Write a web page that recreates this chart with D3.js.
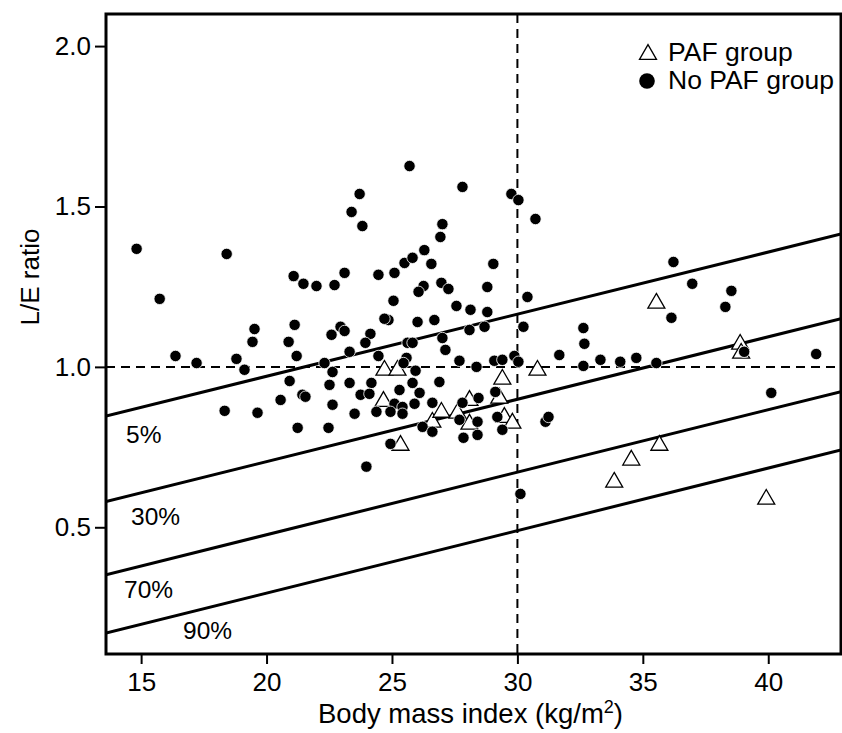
<!DOCTYPE html>
<html>
<head>
<meta charset="utf-8">
<script src="https://cdn.jsdelivr.net/npm/d3@7"></script>
<style>
  html, body { margin: 0; padding: 0; background: #fff; }
  svg { display: block; font-family: "Liberation Sans", Arial, sans-serif; }
</style>
</head>
<body>
<div id="chart"></div>
<script>
// ---------- DATA ----------
const xTicks = [15, 20, 25, 30, 35, 40];
const yTicks = [0.5, 1.0, 1.5, 2.0];
const xDomain = [13.6, 42.9];
const yDomain = [0.105, 2.1];

const bmiCutoff = 30;
const ratioCutoff = 1.0;

// percentile lines: L/E ratio at the left (BMI 13.6) and right (BMI 42.9) ends
const bandLabels = ["5%", "30%", "70%", "90%"];
const bandStart = [0.847, 0.580, 0.352, 0.170];
const bandEnd   = [1.414, 1.150, 0.923, 0.741];

// PAF group (open triangles)
const pafBMI   = [24.70, 25.22, 24.66, 25.34, 26.61, 26.97, 27.61, 28.09, 28.09, 29.28, 29.40,
                  29.48, 29.80, 30.80, 35.54, 38.88, 38.92, 33.86, 34.54, 35.66, 39.92];
const pafRatio = [0.997, 0.997, 0.900, 0.763, 0.835, 0.866, 0.863, 0.903, 0.829, 0.910, 0.969,
                  0.850, 0.832, 0.997, 1.206, 1.078, 1.050, 0.648, 0.717, 0.763, 0.595];

// No PAF group (filled circles)
const noPafBMI = [14.82, 15.74, 18.41, 16.37, 17.21, 18.80, 19.12, 18.33, 19.64, 19.52, 19.44,
  21.08, 21.12, 20.88, 21.20, 20.92, 20.56, 21.24, 21.43, 21.55, 21.47, 21.99, 22.71, 23.11,
  24.46, 25.10, 25.50, 25.82, 26.29, 26.57, 26.93, 27.01, 25.70, 27.81, 29.76, 30.04, 30.72,
  23.71, 23.39, 23.82, 29.04, 26.26, 26.06, 26.97, 27.25, 28.80, 30.40, 25.06, 27.57, 28.13,
  28.80, 24.86, 26.02, 26.69, 28.09, 28.69, 30.24, 27.01, 27.13, 25.62, 25.82, 24.70, 22.95,
  23.11, 22.59, 24.14, 23.94, 23.31, 24.46, 25.58, 25.46, 27.69, 28.37, 29.08, 29.40, 29.88,
  30.04, 31.67, 32.63, 32.67, 32.63, 33.31, 34.10, 34.74, 35.54, 36.22, 36.14, 36.97, 38.53,
  38.29, 39.04, 41.91, 40.12, 22.31, 22.63, 25.94, 25.82, 26.89, 22.51, 23.31, 24.18, 22.63,
  23.75, 24.10, 25.30, 26.10, 25.90, 25.10, 25.42, 25.42, 24.94, 24.38, 23.51, 26.61, 27.81,
  28.45, 29.12, 22.47, 24.94, 26.22, 26.61, 27.69, 28.41, 29.20, 29.40, 27.85, 28.41, 31.12,
  31.24, 23.98, 30.12];
const noPafRatio = [1.368, 1.212, 1.352, 1.034, 1.012, 1.025, 0.991, 0.863, 0.857, 1.118, 1.078,
  1.283, 1.131, 1.078, 1.034, 0.956, 0.897, 0.810, 0.913, 0.907, 1.259, 1.252, 1.255, 1.293,
  1.287, 1.293, 1.324, 1.340, 1.364, 1.321, 1.405, 1.445, 1.626, 1.561, 1.539, 1.520, 1.461,
  1.539, 1.483, 1.439, 1.321, 1.252, 1.234, 1.262, 1.243, 1.249, 1.218, 1.206, 1.190, 1.178,
  1.171, 1.146, 1.140, 1.146, 1.115, 1.125, 1.125, 1.090, 1.053, 1.075, 1.075, 1.150, 1.125,
  1.112, 1.100, 1.103, 1.075, 1.047, 1.034, 1.028, 1.012, 1.019, 1.000, 1.019, 1.022, 1.034,
  1.016, 1.037, 1.121, 1.072, 1.003, 1.022, 1.016, 1.028, 1.012, 1.327, 1.153, 1.259, 1.237,
  1.187, 1.047, 1.040, 0.919, 1.012, 0.984, 0.988, 0.950, 0.953, 0.944, 0.950, 0.950, 0.882,
  0.913, 0.916, 0.928, 0.919, 0.885, 0.885, 0.875, 0.854, 0.860, 0.860, 0.854, 0.888, 0.888,
  0.903, 0.922, 0.810, 0.760, 0.813, 0.798, 0.835, 0.829, 0.844, 0.804, 0.779, 0.788, 0.829,
  0.844, 0.689, 0.604];

const legendLabels = ["PAF group", "No PAF group"];
const xTitle = "Body mass index (kg/m";
const yTitle = "L/E ratio";

// ---------- LAYOUT ----------
const W = 842, H = 733;
const M = { left: 106, top: 14, right: 1, bottom: 79 };
const pw = W - M.left - M.right, ph = H - M.top - M.bottom;
const FONT = 26;

const svg = d3.select("#chart").append("svg").attr("width", W).attr("height", H);
const g = svg.append("g").attr("transform", `translate(${M.left},${M.top})`);

const x = d3.scaleLinear().domain(xDomain).range([0, pw]);
const y = d3.scaleLinear().domain(yDomain).range([ph, 0]);

// triangle symbol centred on its bounding box
const triSym = {
  draw(ctx, size) {
    const s = Math.sqrt(size / (Math.sqrt(3) / 4));
    const h = s * Math.sqrt(3) / 2;
    ctx.moveTo(0, -h / 2);
    ctx.lineTo(s / 2, h / 2);
    ctx.lineTo(-s / 2, h / 2);
    ctx.closePath();
  }
};

// clip
svg.append("defs").append("clipPath").attr("id", "clip")
  .append("rect").attr("width", pw).attr("height", ph);
const plot = g.append("g").attr("clip-path", "url(#clip)");

// percentile lines
const bands = bandLabels.map((l, i) => ({ label: l, pts: [[xDomain[0], bandStart[i]], [xDomain[1], bandEnd[i]]] }));
plot.selectAll("path.band").data(bands).join("path")
  .attr("class", "band")
  .attr("d", d => d3.line().x(p => x(p[0])).y(p => y(p[1]))(d.pts))
  .attr("fill", "none").attr("stroke", "#000").attr("stroke-width", 3);

// dashed reference lines
plot.append("line")
  .attr("x1", x(xDomain[0])).attr("x2", x(xDomain[1]))
  .attr("y1", y(ratioCutoff)).attr("y2", y(ratioCutoff))
  .attr("stroke", "#000").attr("stroke-width", 2).attr("stroke-dasharray", "9,6");
plot.append("line")
  .attr("x1", x(bmiCutoff)).attr("x2", x(bmiCutoff))
  .attr("y1", y(yDomain[1])).attr("y2", y(yDomain[0]))
  .attr("stroke", "#000").attr("stroke-width", 2).attr("stroke-dasharray", "9,6");

// band labels (anchor positions in data units)
const bandLabelPos = [[14.40, 0.763], [14.60, 0.507], [14.32, 0.280], [16.67, 0.152]];
g.selectAll("text.bandlab").data(bands).join("text")
  .attr("class", "bandlab")
  .attr("x", (d, i) => x(bandLabelPos[i][0]))
  .attr("y", (d, i) => y(bandLabelPos[i][1]))
  .attr("font-size", 24.5).attr("fill", "#000")
  .text(d => d.label);

// PAF triangles
const paf = pafBMI.map((b, i) => ({ b, r: pafRatio[i] }));
plot.selectAll("path.paf").data(paf).join("path")
  .attr("class", "paf")
  .attr("transform", d => `translate(${x(d.b)},${y(d.r)})`)
  .attr("d", d3.symbol().type(triSym).size(125))
  .attr("fill", "#fff").attr("stroke", "#000").attr("stroke-width", 1.3);

// No PAF dots
const nopaf = noPafBMI.map((b, i) => ({ b, r: noPafRatio[i] }));
plot.selectAll("circle.nopaf").data(nopaf).join("circle")
  .attr("class", "nopaf")
  .attr("cx", d => x(d.b)).attr("cy", d => y(d.r)).attr("r", 5.7)
  .attr("fill", "#000").attr("stroke", "#fff").attr("stroke-width", 0.8);

// axes
const xAxis = g.append("g").attr("transform", `translate(0,${ph})`)
  .call(d3.axisBottom(x).tickValues(xTicks).tickSize(10).tickPadding(9).tickFormat(d3.format("d")));
const yAxis = g.append("g")
  .call(d3.axisLeft(y).tickValues(yTicks).tickSize(11).tickPadding(4).tickFormat(d3.format(".1f")));
[xAxis, yAxis].forEach(a => {
  a.select(".domain").remove();
  a.selectAll(".tick line").attr("stroke", "#000").attr("stroke-width", 2);
  a.selectAll(".tick text").attr("font-size", FONT).attr("fill", "#000")
    .attr("font-family", "Liberation Sans, Arial, sans-serif");
});

// frame
g.append("rect").attr("width", pw).attr("height", ph)
  .attr("fill", "none").attr("stroke", "#000").attr("stroke-width", 3);

// axis titles
const xt = svg.append("text")
  .attr("x", M.left + pw / 2 - 3).attr("y", 723)
  .attr("text-anchor", "middle").attr("font-size", 27.5).attr("fill", "#000");
xt.append("tspan").text(xTitle);
xt.append("tspan").attr("font-size", 18).attr("dy", -10).text("2");
xt.append("tspan").attr("dy", 10).text(")");

svg.append("text")
  .attr("transform", `translate(39,277) rotate(-90)`)
  .attr("text-anchor", "middle").attr("font-size", FONT).attr("fill", "#000")
  .text(yTitle);

// legend
const leg = svg.append("g");
leg.append("path")
  .attr("transform", "translate(648,52)")
  .attr("d", d3.symbol().type(triSym).size(125))
  .attr("fill", "#fff").attr("stroke", "#000").attr("stroke-width", 1.3);
leg.append("circle").attr("cx", 647).attr("cy", 81).attr("r", 7.8).attr("fill", "#000");
leg.selectAll("text").data(legendLabels).join("text")
  .attr("x", 668).attr("y", (d, i) => 61 + i * 28)
  .attr("font-size", 26.5).attr("fill", "#000")
  .text(d => d);
</script>
</body>
</html>
